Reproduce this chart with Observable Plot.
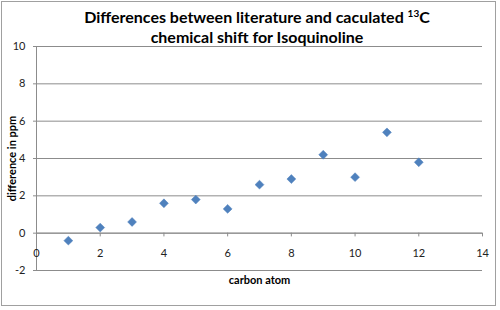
<!DOCTYPE html>
<html>
<head>
<meta charset="utf-8">
<script src="https://cdn.jsdelivr.net/npm/d3@7"></script>
<script src="https://cdn.jsdelivr.net/npm/@observablehq/plot@0.6"></script>
<style>
  html, body { margin: 0; padding: 0; background: #fff; }
  #wrap { position: relative; width: 500px; height: 310px; font-family: Lato, "Open Sans", sans-serif; }
  #frame { position: absolute; left: 1px; top: 1px; width: 495px; height: 305px; border: 1px solid #a0a0a0; box-sizing: border-box; pointer-events: none; }
  #title { position: absolute; left: 0; top: 7px; width: 514px; text-align: center; font-weight: bold; font-size: 16px; line-height: 20px; color: #000; }
  #title sup { font-size: 10px; vertical-align: 6px; line-height: 0; }
</style>
</head>
<body>
<div id="wrap">
  <div id="title">Differences between literature and caculated <sup>13</sup>C<br>chemical shift for Isoquinoline</div>
  <div id="frame"></div>
</div>
<script>
const carbonAtoms = [1, 2, 3, 4, 5, 6, 7, 8, 9, 10, 11, 12];
const differences = [-0.4, 0.3, 0.6, 1.6, 1.8, 1.3, 2.6, 2.9, 4.2, 3.0, 5.4, 3.8];
const xTicks = [0, 2, 4, 6, 8, 10, 12, 14];
const yTicks = [-2, 0, 2, 4, 6, 8, 10];
const xTitle = "carbon atom";
const yTitle = "difference in ppm";

const data = carbonAtoms.map((c, i) => ({c, d: differences[i]}));

const chart = Plot.plot({
  width: 500,
  height: 310,
  marginLeft: 36,
  marginRight: 18,
  marginTop: 46,
  marginBottom: 40,
  style: {fontFamily: "Lato, 'Open Sans', sans-serif", fontSize: "11px", color: "#222", background: "transparent"},
  x: {domain: [0, 14], axis: null},
  y: {domain: [-2, 10], axis: null},
  marks: [
    Plot.ruleY(yTicks, {stroke: "#8c8c8c", strokeWidth: 1, insetLeft: -3}),
    Plot.ruleX([0], {y1: -2, y2: 10, stroke: "#8c8c8c"}),
    Plot.ruleY([0], {stroke: "#8c8c8c"}),
    Plot.ruleX(xTicks, {x: d => d, y1: 0, y2: -0.2, stroke: "#8c8c8c"}),
    Plot.text(xTicks, {x: d => d, y: 0, dy: 20, text: d => String(d), fill: "#222"}),
    Plot.text(yTicks, {x: 0, y: d => d, dx: -11, textAnchor: "end", text: d => String(d), fill: "#222"}),
    Plot.text([yTitle], {frameAnchor: "left", textAnchor: "middle", dx: -24, rotate: -90, fontWeight: "bold", fontSize: 11, fill: "#000"}),
    Plot.text([xTitle], {frameAnchor: "bottom", dy: 13, fontWeight: "bold", fontSize: 11, fill: "#000"}),
    Plot.dot(data, {x: "c", y: "d", symbol: "diamond2", r: 4, fill: "#4f81bd", stroke: "#4f81bd", strokeWidth: 0.5})
  ]
});
document.getElementById("wrap").prepend(chart);
chart.style.position = "absolute";
chart.style.left = "0";
chart.style.top = "0";
</script>
</body>
</html>
